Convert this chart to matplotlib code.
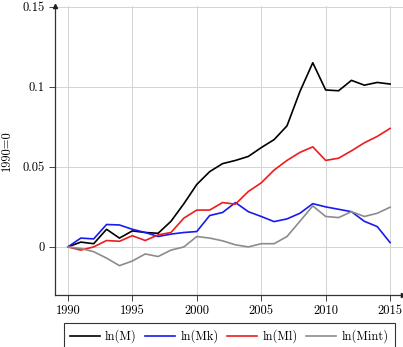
import matplotlib
matplotlib.use("Agg")
import matplotlib.pyplot as plt

years = list(range(1990, 2016))
ln_M = [0, 0.003, 0.002, 0.011, 0.0055, 0.010, 0.009, 0.0085, 0.016, 0.027, 0.039,
        0.047, 0.052, 0.054, 0.0565, 0.062, 0.067, 0.0756, 0.097, 0.115, 0.098,
        0.0975, 0.104, 0.101, 0.1027, 0.1017]
ln_Mk = [0, 0.0055, 0.005, 0.014, 0.0137, 0.011, 0.009, 0.0065, 0.008, 0.009, 0.0096,
         0.0196, 0.0215, 0.0277, 0.022, 0.019, 0.0158, 0.0175, 0.021, 0.027, 0.025,
         0.0235, 0.022, 0.016, 0.0127, 0.0027]
ln_Ml = [0, -0.002, 0, 0.004, 0.0035, 0.007, 0.004, 0.0075, 0.009, 0.018, 0.023,
         0.023, 0.0277, 0.0267, 0.0346, 0.040, 0.048, 0.054, 0.059, 0.0625, 0.054,
         0.0554, 0.060, 0.065, 0.069, 0.074]
ln_Mint = [0, -0.001, -0.003, -0.007, -0.0117, -0.0088, -0.0044, -0.006, -0.002, 0.0, 0.0065,
           0.0055, 0.0038, 0.0013, 0.0, 0.002, 0.002, 0.0065, 0.016, 0.0256, 0.019,
           0.0183, 0.022, 0.019, 0.021, 0.0248]
series_labels = ["ln(M)", "ln(Mk)", "ln(Ml)", "ln(Mint)"]
colors = ["black", "#1a1af0", "#ee1c1c", "#8c8c8c"]
xticks = [1990, 1995, 2000, 2005, 2010, 2015]
yticks = [0, 0.05, 0.1, 0.15]
ytick_labels = ["0", "0.05", "0.1", "0.15"]

plt.rcParams['font.family'] = 'cmr10'
plt.rcParams['axes.unicode_minus'] = False
plt.rcParams['axes.formatter.use_mathtext'] = True

fig = plt.figure(figsize=(4.03, 3.47), dpi=100)
ax = fig.add_axes([0.1365, 0.15, 0.8635, 0.833])

for vals, lab, c in zip([ln_M, ln_Mk, ln_Ml, ln_Mint], series_labels, colors):
    ax.plot(years, vals, color=c, lw=1.2, label=lab, zorder=3)

ax.set_xlim(1989.0, 2016.0)
ax.set_ylim(-0.03, 0.1505)
ax.set_xticks(xticks)
ax.set_xticklabels([str(x) for x in xticks])
ax.set_yticks(yticks)
ax.set_yticklabels(ytick_labels)
ax.grid(True, color="#d4d4d4", lw=0.7, zorder=0)
ax.tick_params(labelsize=9, direction='out', length=4, width=0.7, color="#444444")
for s in ["top", "right"]:
    ax.spines[s].set_visible(False)
for s in ["left", "bottom"]:
    ax.spines[s].set_color("#333333")
    ax.spines[s].set_linewidth(0.9)
ax.plot(1, 0, ">", color="#222222", ms=3, transform=ax.transAxes, clip_on=False, zorder=5)
ax.plot(0, 1, "^", color="#222222", ms=3, transform=ax.transAxes, clip_on=False, zorder=5)

ax.set_ylabel("1990=0", fontsize=9, labelpad=7)

leg = fig.legend(loc='upper center', bbox_to_anchor=(0.569, 0.068), ncol=4,
                 fontsize=9, frameon=True, fancybox=False, edgecolor='black',
                 handlelength=2.4, handletextpad=0.4, columnspacing=0.7,
                 borderpad=0.5, borderaxespad=0)
leg.get_frame().set_linewidth(0.8)

fig.savefig("out.png", dpi=100)
